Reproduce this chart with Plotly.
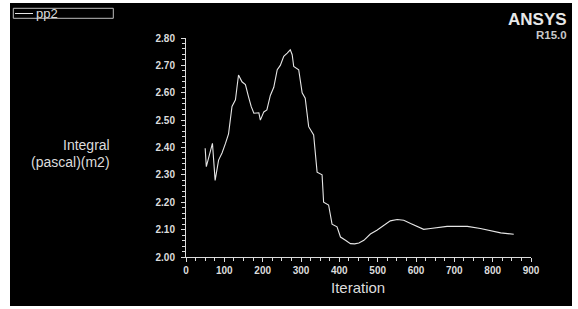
import plotly.graph_objects as go

iterations = [50, 53, 69, 76, 85, 94, 103, 111, 120, 129, 133, 137, 146, 155, 163, 170,
              177, 190, 194, 203, 211, 220, 229, 238, 246, 255, 264, 272, 277, 281, 294,
              303, 311, 320, 333, 337, 342, 355, 359, 372, 381, 394, 403, 416, 429, 440,
              451, 464, 481, 498, 516, 533, 551, 568, 586, 603, 620, 638, 655, 681, 708,
              734, 768, 794, 821, 855]
pp2 = [2.397, 2.33, 2.415, 2.28, 2.354, 2.38, 2.415, 2.45, 2.55, 2.574, 2.62, 2.665,
       2.64, 2.63, 2.586, 2.55, 2.525, 2.527, 2.50, 2.53, 2.537, 2.59, 2.62, 2.684, 2.70,
       2.733, 2.745, 2.757, 2.739, 2.696, 2.684, 2.60, 2.58, 2.476, 2.446, 2.39, 2.31,
       2.30, 2.20, 2.19, 2.12, 2.11, 2.073, 2.061, 2.049, 2.048, 2.051, 2.061, 2.084,
       2.098, 2.116, 2.132, 2.137, 2.134, 2.122, 2.11, 2.101, 2.104, 2.108, 2.112, 2.112,
       2.112, 2.104, 2.095, 2.088, 2.083]
x_ticks = [0, 100, 200, 300, 400, 500, 600, 700, 800, 900]
y_ticks = [2.0, 2.1, 2.2, 2.3, 2.4, 2.5, 2.6, 2.7, 2.8]

W, H = 578, 309
ML, MR, MT, MB = 186, 47, 38, 52
PW, PH = W - ML - MR, H - MT - MB

def px(x):
    return (x - ML) / PW

def py(y):
    return (H - MB - y) / PH

FG = "#dcdcdc"
fig = go.Figure()
fig.add_trace(go.Scatter(x=iterations, y=pp2, mode="lines", name="pp2",
                         line=dict(color="#e6e6e6", width=1.1), showlegend=False,
                         hoverinfo="skip"))

axis_common = dict(showgrid=False, zeroline=False, showline=True, linecolor=FG,
                   linewidth=1, ticks="outside", tickcolor=FG, tickwidth=1,
                   tickfont=dict(family="Liberation Sans", size=10, color=FG, weight="bold"))
fig.update_xaxes(range=[0, 900], tickvals=x_ticks, ticklen=4,
                 minor=dict(dtick=25, ticks="outside", ticklen=3, tickcolor=FG),
                 **axis_common)
fig.update_yaxes(range=[2.0, 2.8], tickvals=y_ticks, tickformat=".2f", ticklen=4,
                 ticklabelstandoff=4,
                 minor=dict(dtick=0.02, ticks="outside", ticklen=3, tickcolor=FG),
                 **axis_common)

shapes = [
    dict(type="rect", xref="paper", yref="paper", layer="below",
         x0=px(10), x1=px(572), y0=py(306), y1=py(3),
         fillcolor="black", line=dict(width=0)),
    dict(type="rect", xref="paper", yref="paper",
         x0=px(13.3), x1=px(113.3), y0=py(18.3), y1=py(8.3),
         line=dict(color="#bdbdbd", width=1)),
    dict(type="line", xref="paper", yref="paper",
         x0=px(15), x1=px(33), y0=py(13.5), y1=py(13.5),
         line=dict(color="#e6e6e6", width=1)),
]

ann = [
    dict(text="pp2", x=px(34), y=py(13), xanchor="left", yanchor="middle",
         font=dict(family="Liberation Sans", size=13, color=FG)),
    dict(text="<b>ANSYS</b>", x=px(569), y=py(20), xanchor="right", yanchor="middle",
         font=dict(family="Liberation Sans", size=17, color="#e8e8e8")),
    dict(text="<b>R15.0</b>", x=px(569), y=py(35), xanchor="right", yanchor="middle",
         font=dict(family="Liberation Sans", size=11.5, color="#c8c8c8")),
    dict(text="Integral", x=px(112), y=py(145), xanchor="right", yanchor="middle",
         font=dict(family="Liberation Sans", size=14, color=FG)),
    dict(text="(pascal)(m2)", x=px(112), y=py(162), xanchor="right", yanchor="middle",
         font=dict(family="Liberation Sans", size=14, color=FG)),
    dict(text="Iteration", x=px(357.5), y=py(287), xanchor="center", yanchor="middle",
         font=dict(family="Liberation Sans", size=15, color=FG)),
]
for a in ann:
    a.update(xref="paper", yref="paper", showarrow=False)

fig.update_layout(width=W, height=H, margin=dict(l=ML, r=MR, t=MT, b=MB),
                  paper_bgcolor="white", plot_bgcolor="rgba(0,0,0,0)",
                  shapes=shapes, annotations=ann, showlegend=False, hovermode=False)

fig.write_html("out.html", config={"displayModeBar": False},
               post_script="document.body.style.margin='0';document.body.style.overflow='hidden';")
